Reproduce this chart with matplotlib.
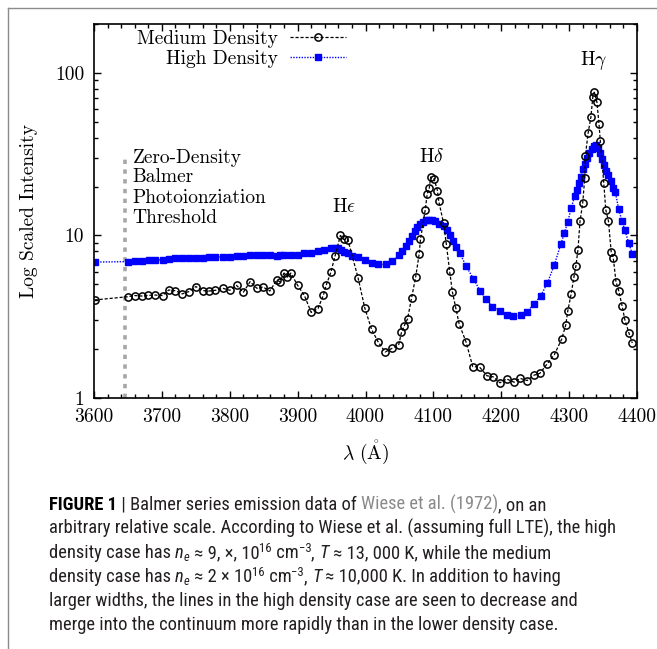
import matplotlib
matplotlib.use('Agg')
import matplotlib.pyplot as plt
from matplotlib import font_manager as fm
from matplotlib.lines import Line2D
from matplotlib.ticker import MultipleLocator, LogLocator, NullFormatter, FuncFormatter

# ---------------- data ----------------
medium_wl = [3601, 3650, 3660, 3670, 3680, 3690, 3701, 3710, 3720, 3730, 3740, 3750, 3760, 3769,
             3779, 3790, 3800, 3810, 3820, 3830, 3840, 3849, 3859, 3869, 3874, 3880, 3885, 3890,
             3900, 3910, 3920, 3930, 3938, 3942, 3949, 3955, 3963, 3968, 3974, 3989, 3999, 4009,
             4019, 4029, 4039, 4049, 4053, 4057, 4062, 4068, 4074, 4079, 4081, 4088, 4091, 4094,
             4096, 4101, 4106, 4108, 4115, 4119, 4124, 4128, 4133, 4138, 4148, 4158, 4168, 4179,
             4188, 4198, 4208, 4219, 4228, 4238, 4248, 4257, 4268, 4278, 4289, 4295, 4298, 4303,
             4307, 4310, 4313, 4316, 4320, 4323, 4324, 4328, 4332, 4335, 4337, 4341, 4344, 4346,
             4351, 4354, 4358, 4362, 4365, 4369, 4373, 4378, 4382, 4388, 4393]
medium_I = [4.01, 4.2, 4.27, 4.24, 4.28, 4.3, 4.27, 4.62, 4.57, 4.37, 4.52, 4.85, 4.58, 4.55,
            4.6, 4.73, 4.6, 4.93, 4.47, 5.2, 4.73, 4.82, 4.55, 5.3, 5.2, 5.87, 5.55, 5.87,
            4.93, 4.27, 3.36, 3.55, 4.3, 4.93, 5.95, 7.43, 10.0, 9.45, 9.4, 5.5, 3.57, 2.64,
            2.2, 1.92, 2.02, 2.13, 2.53, 2.78, 3.07, 4.15, 5.58, 7.64, 9.45, 14.4, 18.1, 19.6,
            22.9, 22.3, 18.9, 16.2, 11.9, 8.9, 6.02, 4.5, 3.58, 2.85, 2.22, 1.56, 1.55, 1.37,
            1.35, 1.24, 1.31, 1.25, 1.32, 1.28, 1.38, 1.42, 1.63, 1.84, 2.3, 2.81, 3.43, 4.37,
            5.52, 6.5, 8.15, 12.2, 15.8, 22.6, 31.0, 42.7, 53.2, 71.6, 76.0, 66.0, 48.5, 38.0,
            21.1, 14.4, 12.2, 7.9, 7.3, 5.2, 4.58, 3.7, 3.04, 2.52, 2.18]

high_wl = [3601, 3650, 3660, 3670, 3681, 3690, 3701, 3710, 3720, 3730, 3740, 3750, 3760, 3769,
           3779, 3790, 3800, 3810, 3820, 3830, 3840, 3849, 3859, 3869, 3874, 3880, 3890, 3900,
           3910, 3920, 3930, 3939, 3949, 3955, 3959, 3964, 3969, 3974, 3980, 3989, 3999, 4009,
           4019, 4030, 4039, 4049, 4054, 4059, 4064, 4068, 4073, 4076, 4080, 4084, 4089, 4094,
           4098, 4102, 4108, 4115, 4120, 4124, 4129, 4134, 4139, 4148, 4159, 4169, 4178, 4187,
           4198, 4208, 4218, 4229, 4238, 4248, 4258, 4268, 4278, 4288, 4293, 4298, 4303, 4308,
           4311, 4315, 4318, 4321, 4323, 4327, 4330, 4334, 4337, 4340, 4342, 4345, 4348, 4351,
           4354, 4357, 4361, 4364, 4368, 4373, 4378, 4382, 4388, 4393]
high_I = [6.86, 6.9, 6.95, 6.95, 7.03, 7.03, 7.1, 7.2, 7.26, 7.26, 7.26, 7.26, 7.26, 7.4,
          7.35, 7.4, 7.4, 7.45, 7.45, 7.57, 7.57, 7.57, 7.57, 7.45, 7.57, 7.57, 7.57, 7.57,
          7.79, 7.79, 8.0, 8.17, 8.33, 8.4, 8.33, 8.1, 7.95, 7.75, 7.5, 7.37, 7.05, 6.76,
          6.63, 6.63, 6.92, 7.55, 8.05, 8.65, 9.25, 9.9, 10.6, 11.3, 11.7, 12.1, 12.4, 12.5,
          12.5, 12.2, 11.8, 11.5, 10.8, 10.0, 9.2, 8.5, 7.8, 6.5, 5.42, 4.55, 4.05, 3.63,
          3.43, 3.24, 3.2, 3.24, 3.4, 3.77, 4.24, 5.1, 6.55, 8.9, 10.35, 12.15, 14.7, 17.4,
          18.95, 20.9, 23.0, 25.5, 27.5, 30.0, 32.0, 34.0, 35.3, 36.0, 34.5, 32.0, 29.5, 27.2,
          25.0, 23.5, 21.5, 19.5, 18.5, 14.5, 12.2, 10.8, 8.95, 7.7]

series_labels = ['Medium Density', 'High Density']
threshold_wl = [3646, 3646]
threshold_I = [1, 31]
threshold_text = ['Zero-Density', 'Balmer', 'Photoionziation', 'Threshold']
line_labels = [r'$\mathrm{H}\epsilon$', r'$\mathrm{H}\delta$', r'$\mathrm{H}\gamma$']
line_label_pos = [(3968, 13.9), (4097, 28.3), (4336, 112.0)]
x_ticks = [3600, 3700, 3800, 3900, 4000, 4100, 4200, 4300, 4400]
y_ticks = [1, 10, 100]

# ---------------- style ----------------
plt.rcParams['font.family'] = ['cmr10', 'DejaVu Serif']
plt.rcParams['mathtext.fontset'] = 'cm'
plt.rcParams['axes.formatter.use_mathtext'] = True

W, H = 657, 649
fig = plt.figure(figsize=(W / 100, H / 100), dpi=100)
ax = fig.add_axes([94 / W, 1 - 398 / H, (637 - 94) / W, (398 - 24) / H])

ax.plot(threshold_wl, threshold_I, color='#a6a6a6', lw=2.6, ls=(0, (1.2, 1.5)),
        dash_capstyle='butt', zorder=1)
ax.plot(medium_wl, medium_I, color='black', ls=(0, (2.5, 1.5)), lw=0.9, marker='o', ms=5.2,
        mfc='none', mec='black', mew=1.1, label=series_labels[0], zorder=3)
ax.plot(high_wl, high_I, color='#0000ff', ls=(0, (1, 1)), lw=1.0, marker='s', ms=4.6,
        mec='#0000ff', mfc='#0000ff', label=series_labels[1], zorder=2)

ax.set_yscale('log')
ax.set_xlim(3600, 4400)
ax.set_ylim(1, 200)
ax.set_xticks(x_ticks)
ax.xaxis.set_minor_locator(MultipleLocator(20))
ax.xaxis.set_major_formatter(FuncFormatter(lambda v, p: f'{v:.0f}'))
ax.set_yticks(y_ticks)
ax.yaxis.set_minor_locator(LogLocator(base=10, subs=range(2, 10)))
ax.yaxis.set_minor_formatter(NullFormatter())
ax.yaxis.set_major_formatter(FuncFormatter(lambda v, p: f'{v:g}'))
ax.tick_params(which='both', direction='in', top=True, right=True, width=1.0)
ax.tick_params(which='major', length=5, labelsize=14, pad=7)
ax.tick_params(which='minor', length=2.6)
for s in ax.spines.values():
    s.set_linewidth(1.2)

ax.set_xlabel(r'$\lambda\ (\mathring{\mathrm{A}})$', fontsize=14, labelpad=9)
ax.set_ylabel('Log Scaled Intensity', fontsize=14, labelpad=12)

leg = ax.legend(loc='upper right', bbox_to_anchor=(0.464, 0.985), frameon=False,
                markerfirst=False, handlelength=2.9, handletextpad=0.6, borderpad=0,
                borderaxespad=0, labelspacing=0.1, fontsize=14, numpoints=1)

for lab, (xw, yi) in zip(line_labels, line_label_pos):
    ax.text(xw, yi, lab, ha='center', va='baseline', fontsize=14)

for txt, yi in zip(threshold_text, [28.1, 21.2, 15.9, 12.0]):
    ax.text(3657, yi, txt, ha='left', va='baseline', fontsize=14)

# ---------------- frame ----------------
fig.add_artist(Line2D([8 / W, 1], [1 - 8 / H, 1 - 8 / H], transform=fig.transFigure,
                      color='#8c8c8c', lw=1.0))
fig.add_artist(Line2D([8 / W, 8 / W], [0, 1 - 8 / H], transform=fig.transFigure,
                      color='#8c8c8c', lw=1.0))

# ---------------- caption ----------------
def has_font(name):
    try:
        fm.findfont(fm.FontProperties(family=name), fallback_to_default=False)
        return True
    except Exception:
        return False

CAP_FONT = 'Liberation Sans'
for cand in ['Liberation Sans Narrow', 'Roboto Condensed', 'Open Sans Condensed',
             'Noto Sans Condensed', 'DejaVu Sans Condensed']:
    if has_font(cand):
        CAP_FONT = cand
        break
renderer = fig.canvas.get_renderer()


def text_width(s, **kw):
    t1 = fig.text(0, 0, s + '|', **kw)
    t2 = fig.text(0, 0, '|', **kw)
    w = t1.get_window_extent(renderer).width - t2.get_window_extent(renderer).width
    t1.remove()
    t2.remove()
    return w

line2 = 'arbitrary relative scale. According to Wiese et al. (assuming full LTE), the high'
w12 = text_width(line2, family=CAP_FONT, fontsize=12)
cap_size = 12 * 565.0 / w12
TXT = '#231f20'


def draw_runs(x_px, base_px, runs):
    x = x_px
    for s, kw in runs:
        kw = dict(kw)
        dy = kw.pop('dy', 0)
        props = dict(family=CAP_FONT, fontsize=cap_size, color=TXT)
        props.update(kw)
        fig.text(x / W, 1 - (base_px - dy) / H, s, ha='left', va='baseline', **props)
        x += text_width(s, **{k: v for k, v in props.items() if k != 'color'})

sup = dict(fontsize=cap_size * 0.68, dy=6)
sub = dict(fontsize=cap_size * 0.68, dy=-3, style='italic')
ita = dict(style='italic')

cap_lines = [
    [('FIGURE 1', dict(weight='bold', color='black')), (' | Balmer series emission data of ', {}),
     ('Wiese et al. (1972)', dict(color='#8a8a8a')), (', on an', {})],
    [(line2, {})],
    [('density case has ', {}), ('n', ita), ('e', sub), (' \u2248 9, \u00d7, 10', {}), ('16', sup),
     (' cm', {}), ('\u22123', sup), (', ', {}), ('T', ita),
     (' \u2248 13, 000 K, while the medium', {})],
    [('density case has ', {}), ('n', ita), ('e', sub), (' \u2248 2 \u00d7 10', {}), ('16', sup),
     (' cm', {}), ('\u22123', sup), (', ', {}), ('T', ita),
     (' \u2248 10,000 K. In addition to having', {})],
    [('larger widths, the lines in the high density case are seen to decrease and', {})],
    [('merge into the continuum more rapidly than in the lower density case.', {})],
]
for i, runs in enumerate(cap_lines):
    draw_runs(49, 510 + 24 * i, runs)

fig.savefig('out.png', dpi=100)
